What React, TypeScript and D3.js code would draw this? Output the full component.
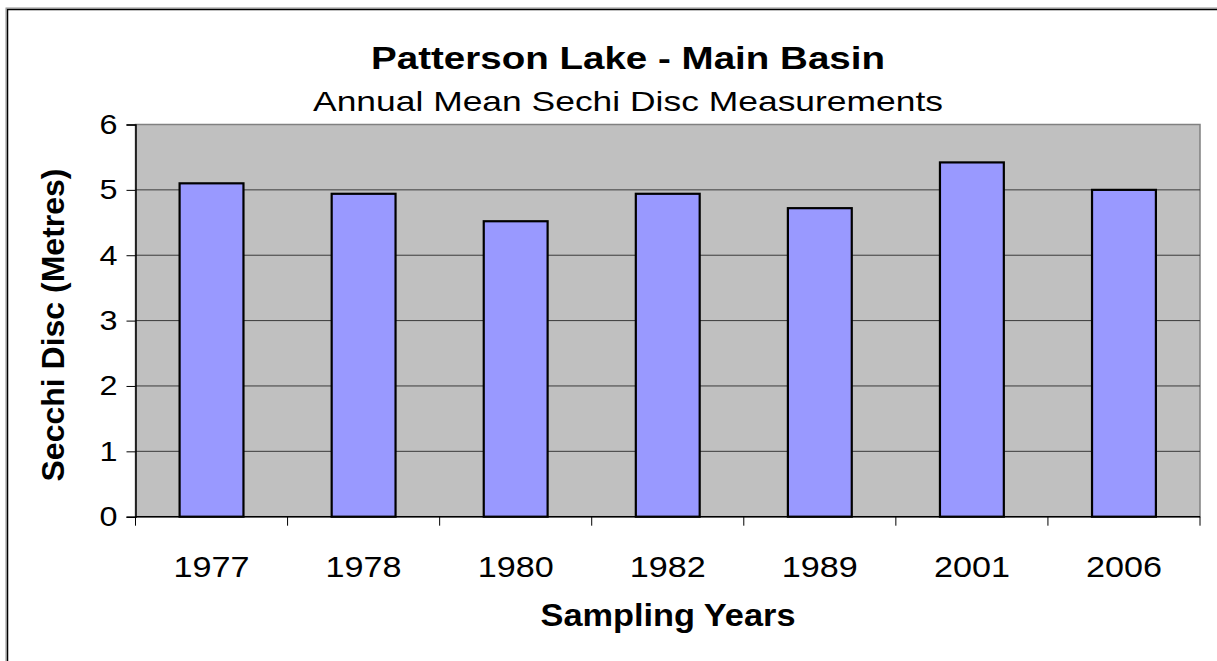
import { useEffect, useRef } from 'react'
import * as d3 from 'd3'

// Data
const YEARS = ['1977', '1978', '1980', '1982', '1989', '2001', '2006']
const SECCHI = [5.1, 4.94, 4.52, 4.94, 4.72, 5.42, 5.0]
const Y_TICKS = [0, 1, 2, 3, 4, 5, 6]

const TITLE = 'Patterson Lake - Main Basin'
const SUBTITLE = 'Annual Mean Sechi Disc Measurements'
const X_TITLE = 'Sampling Years'
const Y_TITLE = 'Secchi Disc (Metres)'

const W = 1217
const H = 661
const PLOT = { left: 135.5, right: 1200, top: 124.5, bottom: 516.7 }
const FONT = '"Liberation Sans", Arial, sans-serif'

export default function App() {
  const svgRef = useRef<SVGSVGElement | null>(null)

  useEffect(() => {
    if (!svgRef.current) return
    const svg = d3.select(svgRef.current)
    svg.selectAll('*').remove()

    // ── Scales ───────────────────────────────────────────────────────────────
    const x = d3.scaleBand<string>().domain(YEARS).range([PLOT.left, PLOT.right]).padding(0)
    const y = d3.scaleLinear().domain([0, 6]).range([PLOT.bottom, PLOT.top])
    const step = x.step()
    const barW = step * 0.42

    // ── Outer frame ──────────────────────────────────────────────────────────
    svg.append('rect')
      .attr('x', 6).attr('y', 8).attr('width', W + 20).attr('height', H + 20)
      .attr('fill', 'none').attr('stroke', '#909090').attr('stroke-width', 1)
    svg.append('rect')
      .attr('x', 7.5).attr('y', 9.5).attr('width', W + 20).attr('height', H + 20)
      .attr('fill', 'none').attr('stroke', '#000').attr('stroke-width', 1.5)

    // ── Plot area ────────────────────────────────────────────────────────────
    svg.append('rect')
      .attr('x', PLOT.left).attr('y', PLOT.top)
      .attr('width', PLOT.right - PLOT.left).attr('height', PLOT.bottom - PLOT.top)
      .attr('fill', '#c0c0c0').attr('stroke', '#808080').attr('stroke-width', 1.5)

    // gridlines
    svg.append('g')
      .selectAll('line')
      .data(Y_TICKS.filter((t) => t > 0 && t < 6))
      .join('line')
      .attr('x1', PLOT.left).attr('x2', PLOT.right)
      .attr('y1', (d) => y(d)).attr('y2', (d) => y(d))
      .attr('stroke', '#3a3a3a').attr('stroke-width', 1)

    // ── Bars ─────────────────────────────────────────────────────────────────
    svg.append('g')
      .selectAll('rect')
      .data(YEARS.map((yr, i) => ({ yr, v: SECCHI[i] })))
      .join('rect')
      .attr('x', (d) => (x(d.yr) ?? 0) + (step - barW) / 2)
      .attr('y', (d) => y(d.v))
      .attr('width', barW)
      .attr('height', (d) => y(0) - y(d.v))
      .attr('fill', '#9999ff')
      .attr('stroke', '#000')
      .attr('stroke-width', 2.2)

    // ── Y axis ───────────────────────────────────────────────────────────────
    const yAxis = svg.append('g').attr('transform', `translate(${PLOT.left},0)`)
      .call(d3.axisLeft(y).tickValues(Y_TICKS).tickSize(9).tickPadding(9).tickFormat(d3.format('d')))
    yAxis.select('.domain').attr('stroke', '#000').attr('stroke-width', 1.5)
    yAxis.selectAll('line').attr('stroke', '#000')
    yAxis.selectAll('text')
      .attr('font-family', FONT).attr('font-size', 28).attr('fill', '#000')
      .attr('textLength', 18).attr('lengthAdjust', 'spacingAndGlyphs')

    // ── X axis ───────────────────────────────────────────────────────────────
    const xAxis = svg.append('g').attr('transform', `translate(0,${PLOT.bottom})`)
    xAxis.append('line')
      .attr('x1', PLOT.left).attr('x2', PLOT.right)
      .attr('stroke', '#000').attr('stroke-width', 1.5)
    xAxis.selectAll('.tick')
      .data([...YEARS.map((d) => x(d) ?? 0), PLOT.right])
      .join('line')
      .attr('class', 'tick')
      .attr('x1', (d) => d).attr('x2', (d) => d)
      .attr('y1', 0).attr('y2', 9)
      .attr('stroke', '#000')
    xAxis.selectAll('text')
      .data(YEARS)
      .join('text')
      .attr('x', (d) => (x(d) ?? 0) + step / 2)
      .attr('y', 60)
      .attr('text-anchor', 'middle')
      .attr('font-family', FONT).attr('font-size', 30)
      .attr('textLength', 76).attr('lengthAdjust', 'spacingAndGlyphs')
      .text((d) => d)

    // ── Titles ───────────────────────────────────────────────────────────────
    svg.append('text')
      .attr('x', 628).attr('y', 69)
      .attr('text-anchor', 'middle')
      .attr('font-family', FONT).attr('font-size', 32).attr('font-weight', 'bold')
      .attr('textLength', 514).attr('lengthAdjust', 'spacingAndGlyphs')
      .text(TITLE)
    svg.append('text')
      .attr('x', 628).attr('y', 111)
      .attr('text-anchor', 'middle')
      .attr('font-family', FONT).attr('font-size', 28)
      .attr('textLength', 630).attr('lengthAdjust', 'spacingAndGlyphs')
      .text(SUBTITLE)
    svg.append('text')
      .attr('x', 668).attr('y', 626)
      .attr('text-anchor', 'middle')
      .attr('font-family', FONT).attr('font-size', 31).attr('font-weight', 'bold')
      .attr('textLength', 255).attr('lengthAdjust', 'spacingAndGlyphs')
      .text(X_TITLE)
    svg.append('text')
      .attr('transform', 'translate(64,325) rotate(-90)')
      .attr('text-anchor', 'middle')
      .attr('font-family', FONT).attr('font-size', 32).attr('font-weight', 'bold')
      .text(Y_TITLE)
  }, [])

  return (
    <svg
      ref={svgRef}
      width={W}
      height={H}
      style={{ position: 'absolute', left: 0, top: 0, display: 'block', background: '#fff' }}
    />
  )
}
